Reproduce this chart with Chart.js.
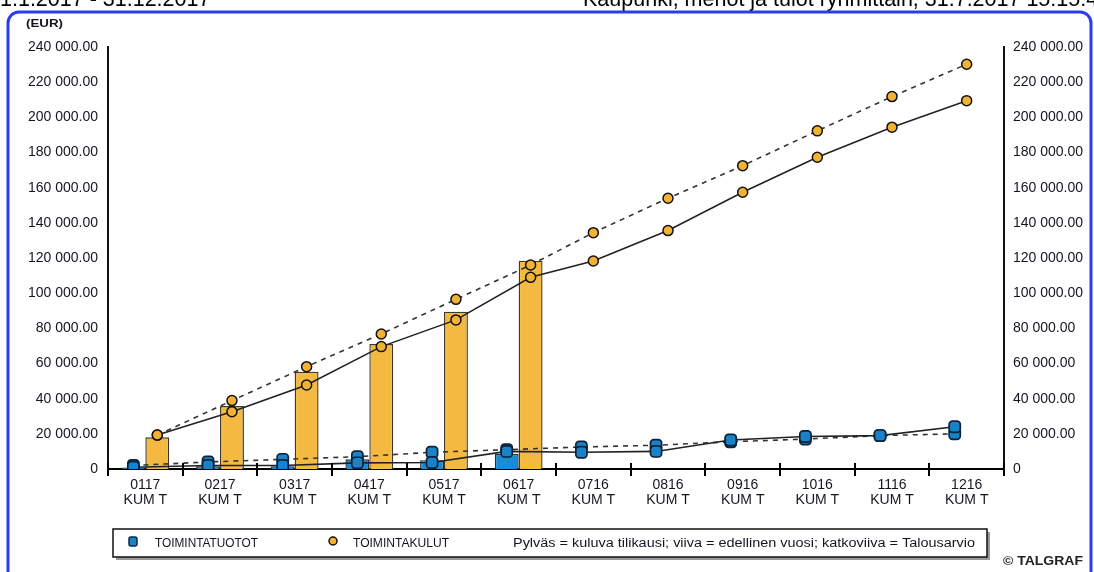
<!DOCTYPE html>
<html>
<head>
<meta charset="utf-8">
<script src="https://cdn.jsdelivr.net/npm/chart.js@4.4.1/dist/chart.umd.min.js"></script>
<style>
  html, body { margin: 0; padding: 0; background: #fff; }
  #wrap { width: 1094px; height: 572px; position: relative; overflow: hidden; }
</style>
</head>
<body>
<div id="wrap"><canvas id="c" width="1094" height="572"></canvas></div>
<script>
// ---- data ----
const categories = ['0117','0217','0317','0417','0517','0617','0716','0816','0916','1016','1116','1216'];
const categorySub = 'KUM T';
const tuototCurrent = [800, 1500, 1500, 5500, 5000, 8500, null, null, null, null, null, null];
const tuototPrevYear = [1000, 2000, 2000, 3500, 3700, 10000, 9500, 10000, 16500, 18500, 19000, 24000];
const tuototBudget = [2000, 4000, 5500, 7000, 9500, 11000, 12500, 13500, 15500, 17000, 19000, 20000];
const kulutCurrent = [18000, 35800, 55300, 71100, 89500, 118500, null, null, null, null, null, null];
const kulutPrevYear = [19300, 32600, 47800, 69600, 84800, 109000, 118300, 135600, 157400, 177300, 194400, 209500];
const kulutBudget = [19300, 38900, 58200, 76800, 96500, 116000, 134400, 154000, 172500, 192300, 211800, 230200];
const yMin = 0, yMax = 240000, yStep = 20000;
const seriesNames = ['TOIMINTATUOTOT', 'TOIMINTAKULUT'];
const legendNote = 'Pylväs = kuluva tilikausi; viiva = edellinen vuosi; katkoviiva = Talousarvio';
const headerLeft = '1.1.2017 - 31.12.2017';
const headerRight = 'Kaupunki, menot ja tulot ryhmittäin, 31.7.2017 15:15:47';
const unitLabel = '(EUR)';
const copyright = '© TALGRAF';

// ---- styles ----
const FONT = '"Liberation Sans", Arial, sans-serif';
const BLUE_BAR = '#1b8bd3';
const BLUE_PT = '#1a82c8';
const YELLOW_BAR = '#f3b940';
const YELLOW_PT = '#f2b233';
const TXT = '#15151f';

function fmt(v) {
  if (v === 0) return '0';
  const s = Math.round(v).toString().replace(/\B(?=(\d{3})+(?!\d))/g, ' ');
  return s + '.00';
}

// move line markers onto their bar slot
const alignPlugin = {
  id: 'alignToBars',
  afterDatasetsUpdate(chart) {
    chart.data.datasets.forEach((ds, di) => {
      if (ds.barRef === undefined) return;
      const meta = chart.getDatasetMeta(di);
      const barMeta = chart.getDatasetMeta(ds.barRef);
      const barData = chart.data.datasets[ds.barRef].data;
      meta.data.forEach((pt, i) => {
        const bar = barMeta.data[i];
        if (!bar) return;
        if (ds.alignAlways || barData[i] !== null) pt.x = bar.x;
      });
    });
  }
};

function stretchText(ctx, text, x, y, targetW) {
  const w = ctx.measureText(text).width;
  const k = targetW / w;
  ctx.save();
  ctx.translate(x, y);
  ctx.scale(k, 1);
  ctx.fillText(text, 0, 0);
  ctx.restore();
}

const decorPlugin = {
  id: 'decor',
  beforeDraw(chart) {
    const ctx = chart.ctx;
    ctx.save();
    ctx.fillStyle = '#fff';
    ctx.fillRect(0, 0, chart.width, chart.height);
    ctx.restore();
  },
  afterDraw(chart) {
    const ctx = chart.ctx;
    const xs = chart.scales.x;
    const base = chart.scales.y.getPixelForValue(0);
    ctx.save();
    // x tick marks crossing the axis
    ctx.strokeStyle = '#000';
    ctx.lineWidth = 2;
    for (let i = 0; i <= categories.length; i++) {
      const x = Math.round(xs.getPixelForValue(i - 0.5));
      ctx.beginPath();
      ctx.moveTo(x, base - 6);
      ctx.lineTo(x, base + 7);
      ctx.stroke();
    }
    // header texts (cut at the top)
    ctx.fillStyle = '#000';
    ctx.font = '21.5px ' + FONT;
    ctx.textBaseline = 'alphabetic';
    ctx.textAlign = 'left';
    ctx.fillText(headerLeft, 0, 6);
    ctx.fillText(headerRight, 583, 6);
    // frame
    ctx.strokeStyle = '#2a3cf2';
    ctx.lineWidth = 3;
    ctx.beginPath();
    ctx.roundRect(8, 12, 1083, 600, 11);
    ctx.stroke();
    // unit
    ctx.fillStyle = TXT;
    ctx.font = 'bold 11px ' + FONT;
    stretchText(ctx, unitLabel, 26, 27, 37);
    // legend box with shadow
    const lx = 113, ly = 529, lw = 874, lh = 28;
    ctx.fillStyle = '#9a9a9a';
    ctx.fillRect(lx + 3, ly + 3, lw, lh);
    ctx.fillStyle = '#fff';
    ctx.fillRect(lx, ly, lw, lh);
    ctx.strokeStyle = '#111';
    ctx.lineWidth = 1.5;
    ctx.strokeRect(lx, ly, lw, lh);
    const cy = ly + lh / 2;
    // square marker
    ctx.fillStyle = BLUE_PT;
    ctx.strokeStyle = '#0d2a40';
    ctx.lineWidth = 1.5;
    ctx.beginPath();
    ctx.roundRect(129, cy - 6, 8, 9, 2);
    ctx.fill(); ctx.stroke();
    // circle marker
    ctx.fillStyle = YELLOW_PT;
    ctx.strokeStyle = '#111';
    ctx.beginPath();
    ctx.arc(333, cy - 2, 4, 0, Math.PI * 2);
    ctx.fill(); ctx.stroke();
    ctx.fillStyle = TXT;
    ctx.font = '12px ' + FONT;
    ctx.textBaseline = 'middle';
    stretchText(ctx, seriesNames[0], 155, cy + 1, 103);
    stretchText(ctx, seriesNames[1], 353, cy + 1, 96);
    stretchText(ctx, legendNote, 513, cy + 1, 462);
    ctx.font = 'bold 12px ' + FONT;
    ctx.fillStyle = '#222';
    stretchText(ctx, copyright, 1003, 562, 80);
    ctx.restore();
  }
};

const labelFont = { family: FONT, size: 14, lineHeight: 1.1 };

new Chart(document.getElementById('c'), {
  data: {
    labels: categories.map(c => [c, categorySub]),
    datasets: [
      { type: 'bar', label: seriesNames[0], data: tuototCurrent, backgroundColor: BLUE_BAR,
        borderColor: '#2a2f36', borderWidth: 1.4, order: 5, yAxisID: 'y',
        categoryPercentage: 0.64, barPercentage: 1.0 },
      { type: 'bar', label: seriesNames[1], data: kulutCurrent, backgroundColor: YELLOW_BAR,
        borderColor: '#3f3a30', borderWidth: 1.4, order: 5, yAxisID: 'y',
        categoryPercentage: 0.64, barPercentage: 1.0 },
      { type: 'line', label: seriesNames[1] + ' TA', data: kulutBudget, barRef: 1,
        borderColor: '#333', borderWidth: 1.6, borderDash: [5, 5], tension: 0,
        pointStyle: 'circle', pointRadius: 5, pointBackgroundColor: YELLOW_PT,
        pointBorderColor: '#111', pointBorderWidth: 1.5, order: 2, yAxisID: 'y' },
      { type: 'line', label: seriesNames[1] + ' ed.', data: kulutPrevYear, barRef: 1,
        borderColor: '#222', borderWidth: 1.6, tension: 0,
        pointStyle: 'circle', pointRadius: 5, pointBackgroundColor: YELLOW_PT,
        pointBorderColor: '#111', pointBorderWidth: 1.5, order: 1, yAxisID: 'y' },
      { type: 'line', label: seriesNames[0] + ' TA', data: tuototBudget, barRef: 0, alignAlways: true,
        borderColor: '#333', borderWidth: 1.6, borderDash: [5, 5], tension: 0,
        pointStyle: 'rectRounded', pointRadius: 6.5, pointBackgroundColor: BLUE_PT,
        pointBorderColor: '#0b2238', pointBorderWidth: 1.7, order: 2, yAxisID: 'y' },
      { type: 'line', label: seriesNames[0] + ' ed.', data: tuototPrevYear, barRef: 0, alignAlways: true,
        borderColor: '#222', borderWidth: 1.6, tension: 0,
        pointStyle: 'rectRounded', pointRadius: 6.5, pointBackgroundColor: BLUE_PT,
        pointBorderColor: '#0b2238', pointBorderWidth: 1.7, order: 1, yAxisID: 'y' }
    ]
  },
  options: {
    responsive: false,
    animation: false,
    layout: { padding: { left: 0, right: 0, top: 47, bottom: 48 } },
    plugins: { legend: { display: false }, tooltip: { enabled: false } },
    scales: {
      x: {
        type: 'category', offset: true,
        grid: { display: false },
        border: { display: true, color: '#000', width: 2 },
        ticks: { font: labelFont, color: TXT, padding: 0, maxRotation: 0, autoSkip: false },
        afterFit: s => { s.height = 55; }
      },
      y: {
        position: 'left', min: yMin, max: yMax,
        grid: { display: false },
        border: { display: true, color: '#111', width: 2 },
        ticks: { stepSize: yStep, font: { family: FONT, size: 14 }, color: TXT, padding: 2, callback: v => fmt(v) },
        afterFit: s => { s.width = 108; }
      },
      y2: {
        position: 'right', min: yMin, max: yMax,
        grid: { display: false },
        border: { display: true, color: '#111', width: 2 },
        ticks: { stepSize: yStep, font: { family: FONT, size: 14 }, color: TXT, padding: 1, callback: v => fmt(v) },
        afterFit: s => { s.width = 90; }
      }
    }
  },
  plugins: [alignPlugin, decorPlugin]
});
</script>
</body>
</html>
